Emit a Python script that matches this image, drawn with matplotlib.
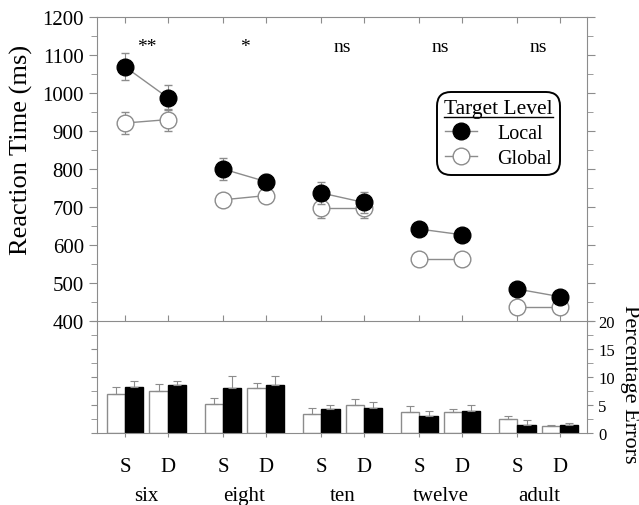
import numpy as np
import matplotlib
matplotlib.use('Agg')
import matplotlib.pyplot as plt
from matplotlib.lines import Line2D

# --- data ---
groups = ['six', 'eight', 'ten', 'twelve', 'adult']
conds = ['S', 'D']
sig_labels = ['**', '*', 'ns', 'ns', 'ns']

# reaction time (ms), order: six S, six D, eight S, eight D, ...
rt_local = [1069, 988, 800, 767, 737, 712, 642, 627, 484, 464]
rt_local_err = [35, 33, 28, 20, 30, 28, 10, 10, 10, 10]
rt_global = [921, 930, 719, 730, 697, 697, 562, 562, 436, 436]
rt_global_err = [29, 29, 10, 10, 25, 25, 8, 8, 8, 8]

# percentage errors
pe_global = [7.0, 7.5, 5.2, 8.0, 3.45, 5.0, 3.75, 3.75, 2.5, 1.25]
pe_global_err = [1.3, 1.3, 1.05, 1.0, 1.05, 1.0, 1.0, 0.45, 0.5, 0.25]
pe_local = [8.3, 8.5, 8.0, 8.5, 4.2, 4.5, 3.0, 4.0, 1.5, 1.5]
pe_local_err = [0.9, 0.7, 2.1, 1.6, 0.8, 1.0, 1.0, 1.0, 0.75, 0.2]

plt.rcParams['font.family'] = ['Liberation Serif', 'DejaVu Serif']
GRAY = '#8c8c8c'

fig = plt.figure(figsize=(6.39, 5.06), dpi=100)
ax2 = fig.add_axes([0.1518, 0.1423, 0.7668, 0.2213])
ax = fig.add_axes([0.1518, 0.3636, 0.7668, 0.6008])
ax2.set_facecolor('none')

gap = 2.3
x = np.array([gap * i + j for i in range(len(groups)) for j in range(len(conds))])
centers = np.array([gap * i + 0.5 for i in range(len(groups))])
xlim = (-0.657, 10.83)

# --- upper panel: reaction times ---
for g in range(len(groups)):
    s = slice(2 * g, 2 * g + 2)
    ax.errorbar(x[s], rt_global[s], yerr=rt_global_err[s], fmt='-o', color=GRAY, lw=1,
                ms=12, mfc='white', mec=GRAY, mew=1, ecolor=GRAY, elinewidth=0.8,
                capsize=3, capthick=0.8, zorder=2)
    ax.errorbar(x[s], rt_local[s], yerr=rt_local_err[s], fmt='-o', color=GRAY, lw=1,
                ms=12, mfc='black', mec='black', mew=1, ecolor=GRAY, elinewidth=0.8,
                capsize=3, capthick=0.8, zorder=3)
    ax.text(centers[g], 1110, sig_labels[g], ha='center', va='baseline', fontsize=14)

ax.set_xlim(*xlim)
ax.set_ylim(400, 1200)
ax.set_yticks(np.arange(400, 1201, 100))
ax.set_yticks(np.arange(400, 1201, 50), minor=True)
ax.set_xticks(x)
ax.tick_params(axis='x', top=True, bottom=True, direction='in', length=4,
               labelbottom=False, color=GRAY)
ax.tick_params(axis='y', which='major', left=True, right=True, direction='out',
               length=6, labelsize=15, color=GRAY)
ax.tick_params(axis='y', which='minor', left=True, right=True, direction='out',
               length=4, color=GRAY)
for sp in ax.spines.values():
    sp.set_color(GRAY)
fig.text(21 / 639, 1 - 150 / 506, 'Reaction Time (ms)', rotation=90,
         ha='center', va='center', fontsize=19)

handles = [
    Line2D([], [], color=GRAY, lw=1, marker='o', ms=12, mfc='black', mec='black'),
    Line2D([], [], color=GRAY, lw=1, marker='o', ms=12, mfc='white', mec=GRAY),
]
leg = ax.legend(handles, ['Local', 'Global'], title='Target Level',
                loc='upper left', bbox_to_anchor=(0.694, 0.753), borderaxespad=0,
                fancybox=True, edgecolor='black', framealpha=1, fontsize=14.5,
                title_fontsize=15.5, handlelength=1.6, handletextpad=1.0,
                labelspacing=0.3, borderpad=0.35)
leg.get_frame().set_linewidth(1.4)
leg.get_frame().set_boxstyle('round', pad=0, rounding_size=0.7)

# --- lower panel: percentage errors ---
w = 0.43
zeros = np.zeros(len(x))
ax2.bar(x - w / 2, pe_global, w, yerr=[zeros, pe_global_err], color='white',
        edgecolor=GRAY, lw=1, error_kw=dict(ecolor=GRAY, capsize=3, elinewidth=0.8,
                                            capthick=0.8))
ax2.bar(x + w / 2, pe_local, w, yerr=[zeros, pe_local_err], color='black',
        edgecolor='black', lw=1, error_kw=dict(ecolor=GRAY, capsize=3, elinewidth=0.8,
                                               capthick=0.8))
ax2.set_xlim(*xlim)
ax2.set_ylim(0, 20)
ax2.set_yticks(np.arange(0, 21, 5))
ax2.set_yticks(np.arange(0, 21, 2.5), minor=True)
ax2.tick_params(axis='y', which='both', left=True, right=True, labelleft=False,
                labelright=True, direction='out', length=4, color=GRAY, labelsize=12,
                pad=4)
ax2.set_xticks(x, [conds[i % 2] for i in range(len(x))])
ax2.tick_params(axis='x', direction='out', length=3, pad=14, labelsize=15, color=GRAY)
for sp in ax2.spines.values():
    sp.set_color(GRAY)
ax2.spines['top'].set_visible(False)
for g, name in enumerate(groups):
    ax2.text(centers[g], -0.5625, name, ha='center', va='center', fontsize=15,
             transform=ax2.get_xaxis_transform())
fig.text(629 / 639, 1 - 384 / 506, 'Percentage Errors', rotation=-90,
         ha='center', va='center', fontsize=16)

# underline the legend title
fig.canvas.draw()
bb = leg.get_title().get_window_extent()
inv = fig.transFigure.inverted()
(x0, y0), (x1, _) = inv.transform([(bb.x0, bb.y0 + 1.5), (bb.x1, bb.y0)])
fig.add_artist(Line2D([x0, x1], [y0, y0], color='black', lw=1, transform=fig.transFigure))

fig.savefig('out.png', dpi=100)
